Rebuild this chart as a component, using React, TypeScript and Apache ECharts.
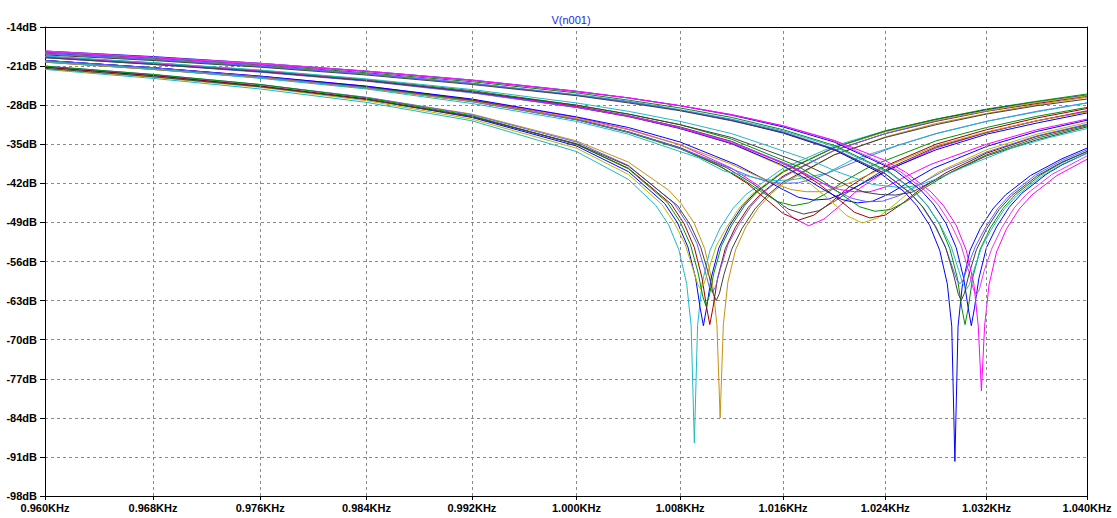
import { useEffect, useRef } from 'react';
import * as echarts from 'echarts';

type Pt = [number, number];

// Frequency axis (Hz) and magnitude axis (dB)
const freqTicks = [960, 968, 976, 984, 992, 1000, 1008, 1016, 1024, 1032, 1040];
const freqMin = 960;
const freqMax = 1040;
const dbMin = -98;
const dbMax = -14;
const dbStep = 7;
const plotTitle = 'V(n001)';

// Monte Carlo runs of the notch response, [Hz, dB]
const run01: Pt[] = [[960,-21.6],[968,-23.2],[976,-25.1],[984,-27.5],[992,-30.8],[1000,-36.3],[1004,-41.3],[1006.1,-45.9],[1007.1,-49.4],[1007.9,-53.9],[1008.5,-59.9],[1008.85,-67.5],[1009.1,-88.5],[1009.35,-67.5],[1009.7,-59.9],[1010.3,-54.1],[1011.1,-50.0],[1012.1,-46.5],[1013.1,-44.0],[1016,-39.3],[1020,-35.3],[1024,-32.6],[1028,-30.5],[1032,-28.9],[1036,-27.5],[1040,-26.3]];
const run02: Pt[] = [[960,-21.1],[968,-22.6],[976,-24.4],[984,-26.6],[992,-29.6],[1000,-34.4],[1004,-38.2],[1007.1,-43.2],[1008.1,-45.7],[1009.1,-49.2],[1009.9,-53.7],[1010.5,-59.7],[1010.85,-67.3],[1011.1,-84.0],[1011.35,-67.3],[1011.7,-59.7],[1012.3,-53.9],[1013.1,-49.8],[1014.1,-46.3],[1015.1,-43.8],[1016,-42.1],[1020,-36.9],[1024,-33.7],[1028,-31.3],[1032,-29.5],[1036,-27.9],[1040,-26.6]];
const run03: Pt[] = [[960,-21.2],[968,-22.7],[976,-24.6],[984,-26.9],[992,-30.2],[1000,-35.3],[1004,-39.9],[1006.8,-45.6],[1007.8,-49.1],[1008.6,-53.4],[1009.2,-59.0],[1009.55,-64.3],[1009.8,-67.5],[1010.05,-64.3],[1010.4,-59.0],[1011.0,-53.6],[1011.8,-49.7],[1012.8,-46.2],[1013.8,-43.7],[1016,-39.9],[1020,-35.6],[1024,-32.7],[1028,-30.6],[1032,-28.8],[1036,-27.4],[1040,-26.2]];
const run04: Pt[] = [[960,-21.2],[968,-22.7],[976,-24.6],[984,-26.9],[992,-30.0],[1000,-35.0],[1004,-39.3],[1007.3,-45.7],[1008.3,-49.2],[1009.1,-53.5],[1009.7,-59.0],[1010.05,-64.2],[1010.3,-67.3],[1010.55,-64.2],[1010.9,-59.0],[1011.5,-53.7],[1012.3,-49.8],[1013.3,-46.3],[1014.3,-43.8],[1016,-40.7],[1020,-36.1],[1024,-33.1],[1028,-30.9],[1032,-29.1],[1036,-27.7],[1040,-26.4]];
const run05: Pt[] = [[960,-21.0],[968,-22.5],[976,-24.3],[984,-26.6],[992,-29.7],[1000,-34.6],[1004,-38.8],[1007.5,-45.5],[1008.5,-49.0],[1009.3,-52.8],[1009.9,-57.4],[1010.25,-60.5],[1010.5,-61.5],[1010.75,-60.5],[1011.1,-57.5],[1011.7,-53.0],[1012.5,-49.6],[1013.5,-46.1],[1014.5,-43.6],[1016,-40.9],[1020,-36.1],[1024,-33.1],[1028,-30.8],[1032,-29.0],[1036,-27.5],[1040,-26.3]];
const run06: Pt[] = [[960,-21.5],[968,-23.0],[976,-24.8],[984,-27.2],[992,-30.5],[1000,-35.7],[1004,-40.4],[1006.6,-45.8],[1007.6,-49.3],[1008.4,-53.0],[1009.0,-57.4],[1009.35,-60.0],[1009.6,-61.0],[1009.85,-60.0],[1010.2,-57.5],[1010.8,-53.2],[1011.6,-49.9],[1012.6,-46.4],[1013.6,-43.9],[1016,-39.8],[1020,-35.6],[1024,-32.8],[1028,-30.7],[1032,-29.0],[1036,-27.5],[1040,-26.3]];
const run07: Pt[] = [[960,-21.0],[968,-22.5],[976,-24.3],[984,-26.7],[992,-29.9],[1000,-35.0],[1004,-39.4],[1007,-45.4],[1008,-48.9],[1008.8,-53.0],[1009.4,-58.1],[1009.75,-62.2],[1010,-64.0],[1010.25,-62.2],[1010.6,-58.2],[1011.2,-53.2],[1012,-49.5],[1013,-46.0],[1014,-43.5],[1016,-40.0],[1020,-35.6],[1024,-32.6],[1028,-30.5],[1032,-28.7],[1036,-27.3],[1040,-26.0]];
const run08: Pt[] = [[960,-21.4],[968,-22.9],[976,-24.7],[984,-27.0],[992,-30.1],[1000,-34.9],[1004,-38.9],[1007.8,-46.0],[1008.8,-49.5],[1009.6,-53.5],[1010.2,-58.2],[1010.55,-61.7],[1010.8,-63.0],[1011.05,-61.7],[1011.4,-58.3],[1012.0,-53.8],[1012.8,-50.1],[1013.8,-46.6],[1014.8,-44.1],[1016,-41.8],[1020,-36.9],[1024,-33.8],[1028,-31.5],[1032,-29.6],[1036,-28.1],[1040,-26.9]];

const run09: Pt[] = [[960,-20.0],[968,-21.3],[976,-22.8],[984,-24.6],[992,-27.0],[1000,-30.2],[1004,-32.3],[1008,-35.1],[1012,-39.3],[1014,-42.3],[1015.5,-45.3],[1016.8,-48.2],[1018,-49.6],[1019.2,-48.4],[1020.5,-45.9],[1022,-42.9],[1024,-39.9],[1028,-35.7],[1032,-32.9],[1036,-30.8],[1040,-29.0]];
const run10: Pt[] = [[960,-20.0],[968,-21.3],[976,-22.9],[984,-24.7],[992,-27.1],[1000,-30.5],[1004,-32.8],[1008,-35.7],[1011.2,-39.1],[1013.2,-42.0],[1014.7,-44.9],[1016.0,-47.4],[1017.2,-48.6],[1018.4,-47.7],[1019.7,-45.5],[1021.2,-42.6],[1023.2,-39.7],[1028,-35.0],[1032,-32.4],[1036,-30.3],[1040,-28.6]];
const run11: Pt[] = [[960,-20.3],[968,-21.6],[976,-23.1],[984,-24.9],[992,-27.3],[1000,-30.6],[1004,-32.8],[1008,-35.6],[1011.6,-39.2],[1013.6,-42.0],[1015.1,-44.5],[1016.4,-46.6],[1017.6,-47.5],[1018.8,-46.9],[1020.1,-45.1],[1021.6,-42.8],[1023.6,-40.0],[1028,-35.5],[1032,-32.9],[1036,-30.8],[1040,-29.1]];
const run12: Pt[] = [[960,-20.0],[968,-21.3],[976,-22.9],[984,-24.7],[992,-27.2],[1000,-30.6],[1004,-32.9],[1008,-35.8],[1010.8,-38.6],[1012.8,-41.2],[1014.3,-43.5],[1015.6,-45.3],[1016.8,-46.0],[1018.0,-45.5],[1019.3,-43.9],[1020.8,-41.6],[1022.8,-39.0],[1028,-34.4],[1032,-32.0],[1036,-30.0],[1040,-28.4]];
const run13: Pt[] = [[960,-20.0],[968,-21.3],[976,-22.8],[984,-24.6],[992,-26.9],[1000,-30.1],[1004,-32.0],[1008,-34.6],[1012.4,-38.7],[1014.4,-41.1],[1015.9,-43.0],[1017.2,-44.5],[1018.4,-45.0],[1019.6,-44.8],[1020.9,-43.6],[1022.4,-41.8],[1024.4,-39.4],[1028,-36.0],[1032,-33.2],[1036,-31.2],[1040,-29.4]];
const run14: Pt[] = [[960,-20.0],[968,-21.3],[976,-22.9],[984,-24.9],[992,-27.4],[1000,-30.6],[1004,-32.8],[1007,-34.9],[1010,-37.5],[1012,-39.4],[1013.5,-40.8],[1014.8,-41.7],[1016,-42.0],[1017.2,-41.9],[1018.5,-41.1],[1020,-39.7],[1022,-37.8],[1025,-35.2],[1028,-33.1],[1032,-30.9],[1036,-29.1],[1040,-27.6]];
const run15: Pt[] = [[960,-20.3],[968,-21.6],[976,-23.1],[984,-25.0],[992,-27.3],[1000,-30.4],[1004,-32.4],[1008,-35.1],[1011.8,-38.4],[1013.8,-40.5],[1015.3,-42.0],[1016.6,-43.1],[1017.8,-43.5],[1019.0,-43.5],[1020.3,-42.7],[1021.8,-41.4],[1023.8,-39.3],[1028,-35.3],[1032,-32.8],[1036,-30.8],[1040,-29.2]];
const run16: Pt[] = [[960,-20.2],[968,-21.5],[976,-23.2],[984,-25.1],[992,-27.7],[1000,-30.9],[1004,-33.2],[1009.4,-37.4],[1011.4,-39.8],[1012.9,-40.5],[1014.2,-41.2],[1015.4,-41.5],[1016.6,-41.4],[1017.9,-40.9],[1019.4,-40.2],[1021.4,-37.8],[1024,-35.9],[1028,-33.1],[1032,-30.9],[1036,-29.2],[1040,-27.6]];

const run17: Pt[] = [[960,-19.4],[968,-20.6],[976,-22.0],[984,-23.6],[992,-25.7],[1000,-28.3],[1004,-30.1],[1008,-32.1],[1012,-34.9],[1016.2,-39.2],[1018.2,-42.2],[1019.7,-45.1],[1021.0,-47.8],[1022.2,-49.1],[1023.4,-48.2],[1024.7,-45.9],[1026.2,-43.0],[1028.2,-40.0],[1032,-36.0],[1036,-33.2],[1040,-31.1]];
const run18: Pt[] = [[960,-19.4],[968,-20.6],[976,-22.0],[984,-23.6],[992,-25.6],[1000,-28.2],[1004,-29.9],[1008,-31.9],[1012,-34.5],[1016.8,-39.2],[1018.8,-42.1],[1020.3,-44.8],[1021.6,-47.2],[1022.8,-48.2],[1024.0,-47.7],[1025.3,-45.7],[1026.8,-43.0],[1028.8,-40.1],[1032,-36.6],[1036,-33.6],[1040,-31.5]];
const run19: Pt[] = [[960,-19.3],[968,-20.5],[976,-21.9],[984,-23.6],[992,-25.7],[1000,-28.4],[1004,-30.0],[1008,-32.2],[1012,-34.9],[1015.8,-38.6],[1017.8,-41.2],[1019.3,-43.3],[1020.6,-44.9],[1021.8,-45.5],[1023.0,-45.2],[1024.3,-43.9],[1025.8,-41.9],[1027.8,-39.3],[1032,-35.4],[1036,-32.7],[1040,-30.7]];
const run20: Pt[] = [[960,-19.5],[968,-20.7],[976,-22.1],[984,-23.7],[992,-25.8],[1000,-28.4],[1004,-29.9],[1008,-32.0],[1012,-34.6],[1016.6,-38.8],[1018.6,-41.3],[1020.1,-43.3],[1021.4,-44.7],[1022.6,-45.3],[1023.8,-45.2],[1025.1,-44.2],[1026.6,-42.3],[1028.6,-39.8],[1032,-36.4],[1036,-33.5],[1040,-31.4]];
const run21: Pt[] = [[960,-19.3],[968,-20.4],[976,-21.8],[984,-23.4],[992,-25.4],[1000,-28.0],[1004,-29.6],[1008,-31.5],[1012,-34.1],[1017.2,-39.0],[1019.2,-41.7],[1020.7,-44.2],[1022.0,-46.2],[1023.2,-47.0],[1024.4,-46.7],[1025.7,-45.2],[1027.2,-42.7],[1029.2,-40.0],[1032,-36.9],[1036,-33.9],[1040,-31.7]];
const run22: Pt[] = [[960,-19.3],[968,-20.5],[976,-21.9],[984,-23.6],[992,-25.6],[1000,-28.3],[1004,-30.0],[1008,-32.1],[1012,-34.8],[1015.6,-38.0],[1017.6,-40.2],[1019.1,-42.0],[1020.4,-43.1],[1021.6,-43.5],[1022.8,-43.5],[1024.1,-42.6],[1025.6,-40.8],[1027.6,-38.6],[1032,-35.0],[1036,-32.4],[1040,-30.5]];
const run23: Pt[] = [[960,-19.5],[968,-20.7],[976,-22.0],[984,-23.6],[992,-25.6],[1000,-28.0],[1004,-29.6],[1008,-31.5],[1012,-33.8],[1017.6,-38.5],[1019.6,-40.7],[1021.1,-42.5],[1022.4,-43.6],[1023.6,-44.0],[1024.8,-44.1],[1026.1,-43.6],[1027.6,-41.8],[1029.6,-39.6],[1032,-37.1],[1036,-34.2],[1040,-31.9]];
const run24: Pt[] = [[960,-19.2],[968,-20.4],[976,-21.7],[984,-23.3],[992,-25.2],[1000,-27.6],[1004,-29.1],[1008,-30.9],[1012,-33.1],[1018.2,-37.9],[1020.2,-39.9],[1021.7,-41.1],[1023.0,-42.2],[1024.2,-42.5],[1025.4,-42.8],[1026.7,-42.3],[1028.2,-41.1],[1030.2,-39.1],[1034,-35.7],[1037,-33.8],[1040,-32.2]];

const run25: Pt[] = [[960,-18.7],[968,-19.8],[976,-21.0],[984,-22.4],[992,-24.1],[1000,-26.2],[1004,-27.4],[1008,-28.9],[1012,-30.7],[1016,-33.0],[1020,-36.0],[1023.5,-40.0],[1025.5,-43.5],[1026.5,-46.0],[1027.5,-49.5],[1028.3,-54.0],[1028.9,-60.0],[1029.25,-67.6],[1029.5,-91.8],[1029.75,-67.6],[1030.1,-60.0],[1030.7,-54.0],[1031.5,-50.1],[1032.5,-46.6],[1033.5,-44.1],[1035.5,-40.6],[1038,-37.6],[1040,-35.7]];
const run26: Pt[] = [[960,-18.5],[968,-19.5],[976,-20.7],[984,-22.0],[992,-23.6],[1000,-25.6],[1004,-26.7],[1008,-28.1],[1012,-29.7],[1016,-31.7],[1020,-34.3],[1024,-37.9],[1025.6,-40.0],[1027.6,-43.5],[1028.6,-46.0],[1029.6,-49.5],[1030.4,-54.0],[1031.0,-60.0],[1031.35,-67.6],[1031.6,-79.2],[1031.85,-67.6],[1032.2,-60.2],[1032.8,-54.3],[1033.6,-50.1],[1034.6,-46.6],[1035.6,-44.1],[1037.6,-40.6],[1040,-37.7]];
const run27: Pt[] = [[960,-18.5],[968,-19.6],[976,-20.8],[984,-22.2],[992,-23.8],[1000,-25.8],[1004,-27.1],[1008,-28.5],[1012,-30.2],[1016,-32.4],[1020,-35.2],[1024.3,-39.9],[1026.3,-43.4],[1027.3,-45.9],[1028.3,-49.4],[1029.1,-53.7],[1029.7,-59.0],[1030.05,-64.4],[1030.3,-67.3],[1030.55,-64.4],[1030.9,-59.0],[1031.5,-53.8],[1032.3,-50.0],[1033.3,-46.5],[1034.3,-44.0],[1036.3,-40.5],[1038,-38.3],[1040,-36.3]];
const run28: Pt[] = [[960,-18.3],[968,-19.3],[976,-20.5],[984,-21.9],[992,-23.5],[1000,-25.5],[1004,-26.7],[1008,-28.1],[1012,-29.8],[1016,-31.9],[1020,-34.6],[1024.8,-39.7],[1026.8,-43.2],[1027.8,-45.7],[1028.8,-49.2],[1029.6,-53.5],[1030.2,-59.0],[1030.55,-64.3],[1030.8,-67.5],[1031.05,-64.3],[1031.4,-59.0],[1032.0,-53.5],[1032.8,-49.8],[1033.8,-46.3],[1034.8,-43.8],[1036.8,-40.3],[1038,-38.7],[1040,-36.6]];
const run29: Pt[] = [[960,-18.8],[968,-19.9],[976,-21.1],[984,-22.4],[992,-24.1],[1000,-26.1],[1004,-27.3],[1008,-28.8],[1012,-30.5],[1016,-32.6],[1020,-35.4],[1024.4,-40.2],[1026.4,-43.7],[1027.4,-46.2],[1028.4,-49.7],[1029.2,-53.3],[1029.8,-57.6],[1030.15,-60.1],[1030.4,-61.0],[1030.65,-60.1],[1031.0,-57.6],[1031.6,-53.5],[1032.4,-50.2],[1033.4,-46.7],[1034.4,-44.2],[1036.4,-40.7],[1038,-38.6],[1040,-36.6]];
const run30: Pt[] = [[960,-18.3],[968,-19.4],[976,-20.5],[984,-21.9],[992,-23.5],[1000,-25.5],[1004,-26.7],[1008,-28.1],[1012,-29.7],[1016,-31.7],[1020,-34.4],[1025.2,-39.9],[1027.2,-43.4],[1028.2,-45.9],[1029.2,-49.4],[1030.0,-53.2],[1030.6,-57.8],[1030.95,-60.9],[1031.2,-62.0],[1031.45,-60.9],[1031.8,-57.8],[1032.4,-53.8],[1033.2,-50.0],[1034.2,-46.4],[1035.2,-43.9],[1037.2,-40.4],[1040,-37.1]];
const run31: Pt[] = [[960,-18.8],[968,-19.8],[976,-21.0],[984,-22.4],[992,-24.1],[1000,-26.2],[1004,-27.4],[1008,-28.9],[1012,-30.6],[1016,-32.8],[1020,-35.8],[1023.9,-40.1],[1025.9,-43.6],[1026.9,-46.1],[1027.9,-49.6],[1028.7,-53.1],[1029.3,-57.0],[1029.65,-59.3],[1029.9,-60.0],[1030.15,-59.3],[1030.5,-57.0],[1031.1,-53.4],[1031.9,-50.0],[1032.9,-46.5],[1033.9,-44.0],[1035.9,-40.5],[1038,-37.9],[1040,-36.0]];
const run32: Pt[] = [[960,-19.0],[968,-20.0],[976,-21.2],[984,-22.6],[992,-24.3],[1000,-26.3],[1004,-27.6],[1008,-29.0],[1012,-30.8],[1016,-32.9],[1020,-35.9],[1024,-40.3],[1026,-43.8],[1027,-46.3],[1028,-49.8],[1028.8,-53.7],[1029.4,-58.4],[1029.75,-61.7],[1030,-63.0],[1030.25,-61.7],[1030.6,-58.4],[1031.2,-53.9],[1032,-50.2],[1033,-46.7],[1034,-44.2],[1036,-40.7],[1038,-38.2],[1040,-36.3]];

// Trace colours
const GREEN = '#009000';
const BLUE = '#0000ff';
const RED = '#a00000';
const CYAN = '#20b8c8';
const MAGENTA = '#ff00ff';
const GOLD = '#c89010';
const OLIVE = '#b8b800';
const GREY = '#404040';
const LBLUE = '#6464ff';

const traces: { name: string; color: string; data: Pt[] }[] = [
  { name: 'run01', color: CYAN, data: run01 },
  { name: 'run02', color: GOLD, data: run02 },
  { name: 'run03', color: BLUE, data: run03 },
  { name: 'run04', color: RED, data: run04 },
  { name: 'run05', color: LBLUE, data: run05 },
  { name: 'run06', color: OLIVE, data: run06 },
  { name: 'run07', color: GREEN, data: run07 },
  { name: 'run08', color: GREY, data: run08 },
  { name: 'run09', color: MAGENTA, data: run09 },
  { name: 'run10', color: RED, data: run10 },
  { name: 'run11', color: GREY, data: run11 },
  { name: 'run12', color: GREEN, data: run12 },
  { name: 'run13', color: BLUE, data: run13 },
  { name: 'run14', color: LBLUE, data: run14 },
  { name: 'run15', color: GOLD, data: run15 },
  { name: 'run16', color: CYAN, data: run16 },
  { name: 'run17', color: OLIVE, data: run17 },
  { name: 'run18', color: RED, data: run18 },
  { name: 'run19', color: BLUE, data: run19 },
  { name: 'run20', color: LBLUE, data: run20 },
  { name: 'run21', color: GREEN, data: run21 },
  { name: 'run22', color: MAGENTA, data: run22 },
  { name: 'run23', color: GREY, data: run23 },
  { name: 'run24', color: CYAN, data: run24 },
  { name: 'run25', color: BLUE, data: run25 },
  { name: 'run27', color: GREEN, data: run27 },
  { name: 'run28', color: BLUE, data: run28 },
  { name: 'run29', color: CYAN, data: run29 },
  { name: 'run30', color: '#e040e0', data: run30 },
  { name: 'run31', color: LBLUE, data: run31 },
  { name: 'run32', color: GREY, data: run32 },
  { name: 'run26', color: MAGENTA, data: run26 },
];

const FONT = '"Liberation Sans", Arial, sans-serif';

function freqLabel(f: number): string {
  return `${(f / 1000).toFixed(3)}KHz`;
}

export default function App() {
  const ref = useRef<HTMLDivElement>(null);

  useEffect(() => {
    if (!ref.current) return;
    const chart = echarts.init(ref.current, null, { renderer: 'svg' });
    const gridLine = { type: [3, 3] as number[], color: '#8a8a8a', width: 1 };
    const labelStyle = { fontFamily: FONT, fontSize: 11, fontWeight: 'bold' as const, color: '#000' };

    // vertical grid lines with their frequency labels underneath the plot
    const freqGrid: any[] = freqTicks.map((f) => ({
      xAxis: f,
      lineStyle:
        f === freqMin || f === freqMax
          ? { color: 'rgba(0,0,0,0)', width: 1, type: 'solid' }
          : gridLine,
      label: {
        show: true,
        position: 'start',
        distance: 6,
        formatter: freqLabel(f),
        opacity: 1,
        ...labelStyle,
      },
    }));

    chart.setOption({
      animation: false,
      backgroundColor: '#ffffff',
      title: {
        text: plotTitle,
        left: 566,
        top: 9,
        textAlign: 'center',
        textStyle: { color: '#2222ff', fontSize: 11, fontWeight: 'normal', fontFamily: FONT },
      },
      grid: { left: 45, right: 30, top: 27, bottom: 22 },
      xAxis: [
        {
          type: 'log',
          logBase: 10,
          min: freqMin,
          max: freqMax,
          z: 5,
          axisLine: { show: true, lineStyle: { color: '#000', width: 1 } },
          axisTick: {
            show: true,
            length: 4,
            customValues: freqTicks,
            lineStyle: { color: '#000', width: 1 },
          },
          axisLabel: { show: false },
          splitLine: { show: false },
        },
        {
          type: 'log',
          logBase: 10,
          position: 'top',
          min: freqMin,
          max: freqMax,
          z: 5,
          axisLine: { show: true, lineStyle: { color: '#000', width: 1 } },
          axisTick: { show: false },
          axisLabel: { show: false },
          splitLine: { show: false },
        },
      ],
      yAxis: [
        {
          type: 'value',
          min: dbMin,
          max: dbMax,
          interval: dbStep,
          axisLine: { show: true, lineStyle: { color: '#000', width: 1 } },
          axisTick: { show: true, length: 5, lineStyle: { color: '#000' } },
          axisLabel: { ...labelStyle, margin: 8, formatter: (v: number) => `${v}dB` },
          splitLine: { show: true, lineStyle: gridLine },
        },
        {
          type: 'value',
          position: 'right',
          min: dbMin,
          max: dbMax,
          interval: dbStep,
          z: 5,
          axisLine: { show: true, lineStyle: { color: '#000', width: 1 } },
          axisTick: { show: false },
          axisLabel: { show: false },
          splitLine: { show: false },
        },
      ],
      series: [
        {
          type: 'line',
          name: 'freq-grid',
          data: [],
          silent: true,
          clip: false,
          z: 1,
          markLine: {
            silent: true,
            animation: false,
            symbol: ['none', 'none'],
            data: freqGrid,
          },
        },
        ...traces.map((t) => ({
          type: 'line',
          name: t.name,
          data: t.data,
          showSymbol: false,
          symbol: 'none',
          silent: true,
          z: 3,
          lineStyle: { width: 1, color: t.color },
          itemStyle: { color: t.color },
        })),
      ],
    });

    return () => chart.dispose();
  }, []);

  return (
    <div
      ref={ref}
      style={{ position: 'fixed', left: 0, top: 0, width: 1117, height: 518, background: '#fff' }}
    />
  );
}
